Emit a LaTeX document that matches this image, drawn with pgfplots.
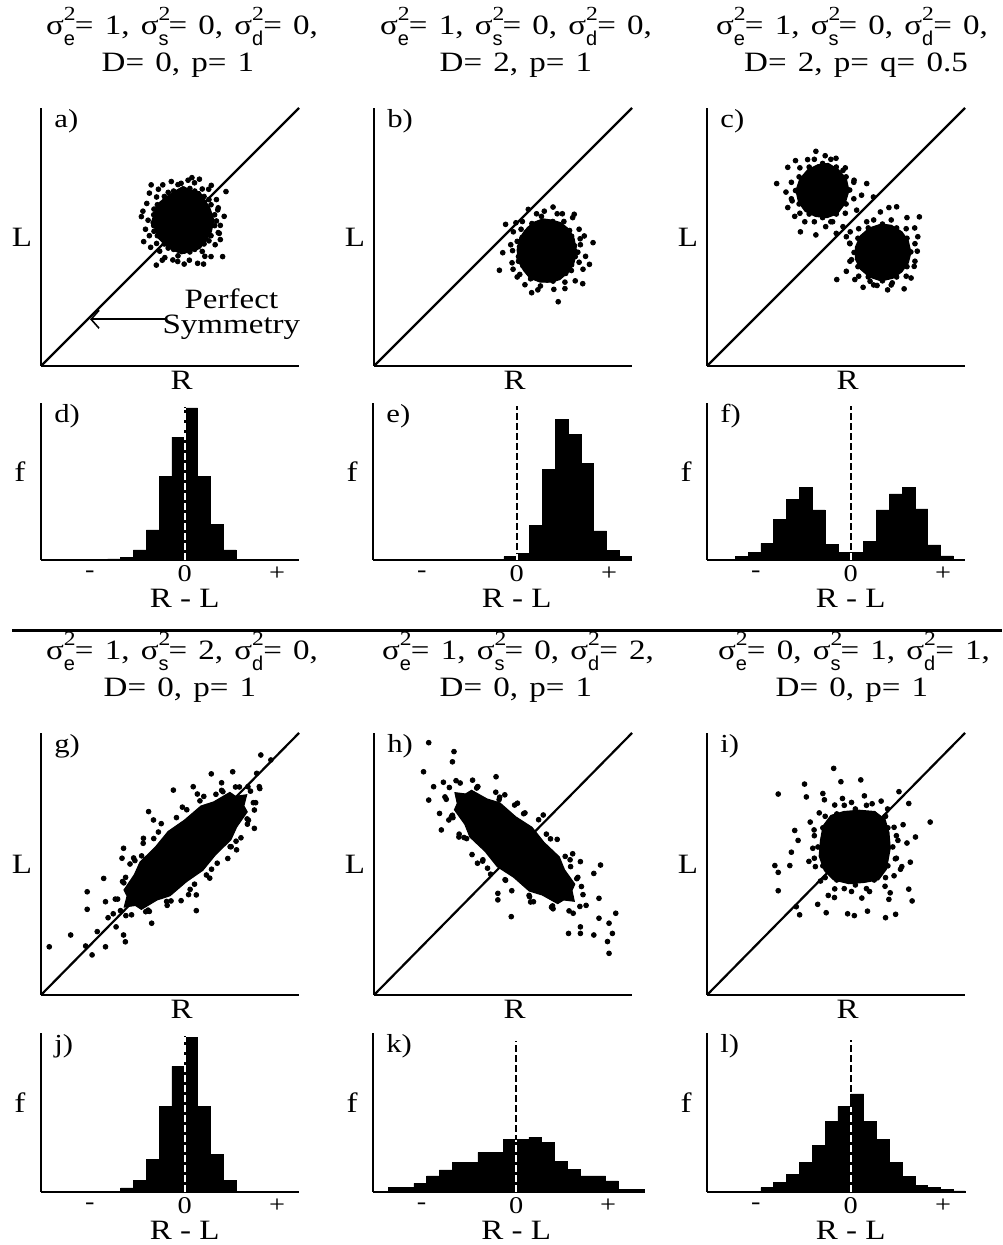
\documentclass[border=0pt]{standalone}
\usepackage{pgfplots}
\pgfplotsset{compat=1.18}
\usepackage{fontspec}
\setmainfont{Liberation Serif}[FakeStretch=1.18]
\setsansfont{Liberation Sans}
\usetikzlibrary{arrows.meta}

% sigma^2 with a subscript under the 2
\newcommand{\sv}[1]{σ\makebox[0pt][l]{\raisebox{7pt}{\fontsize{10}{10}\selectfont 2}}\raisebox{-5.5pt}{\fontsize{10}{10}\selectfont\sffamily #1}}
\newcommand{\widesp}{\spaceskip=0.4em\relax}

\tikzset{letter/.style={anchor=north west, inner sep=0pt, xshift=6.5pt, yshift=-0.5pt, font=\fontsize{13}{13}\selectfont},
  ttl/.style={anchor=base, inner sep=0pt, font=\fontsize{14}{16}\selectfont\widesp}}

\pgfplotsset{
  panel/.style={scale only axis, axis lines=left, axis line style={-, line width=1pt},
    xtick=\empty, ytick=\empty, clip=false, anchor=south west},
  scat/.style={panel, width=129pt, height=129pt, xmin=0, xmax=10, ymin=0, ymax=10,
    xlabel=R, ylabel=L,
    every axis x label/.style={at={(axis description cs:0.545,0)}, anchor=center, inner sep=0.5pt, yshift=-7pt},
    every axis y label/.style={at={(axis description cs:0,0.5)}, anchor=center, inner sep=0.5pt, xshift=-9.5pt}},
  hist/.style={panel, width=129pt, height=78.5pt, xmin=-11.2, xmax=8.9, ymin=0, ymax=470,
    xtick={-7.4,0,7.2}, xticklabels={-,0,+}, major tick length=0pt,
    xticklabel style={font=\fontsize{12}{12}\selectfont, anchor=center, inner sep=0.5pt, yshift=-7pt},
    xlabel={R - L}, ylabel=f,
    every axis x label/.style={at={(axis cs:0,0)}, anchor=center, inner sep=0.5pt, yshift=-19pt},
    every axis y label/.style={at={(axis description cs:0,0.56)}, anchor=center, inner sep=0.5pt, xshift=-10.5pt}},
  dots/.style={only marks, mark=*, mark size=1.2pt, black},
  core/.style={fill=black, draw=black, line width=0.6pt},
  diag/.style={black, line width=1.1pt},
  bars/.style={ybar interval, fill=black, draw=black, line width=0.3pt},
  zeroline/.style={black, line width=0.9pt, dash pattern=on 3.5pt off 1.5pt},
  zerowhite/.style={white, line width=0.9pt, dash pattern=on 3.5pt off 1.5pt},
}

\begin{document}
\fontsize{14}{16}\selectfont
\begin{tikzpicture}
\useasboundingbox (0,0) rectangle (501pt,622.5pt);

% ---------- a)
\begin{axis}[scat, at={(20.5pt,439.5pt)}]
\addplot[diag] coordinates {(0,0) (10,10)};
\addplot[core] coordinates {(6.70,5.65) (6.55,6.10) (6.40,6.35) (6.15,6.75) (5.80,6.80) (5.50,6.95) (5.15,6.75) (4.85,6.55) (4.55,6.30) (4.40,5.95) (4.30,5.60) (4.45,5.25) (4.55,4.95) (4.85,4.65) (5.10,4.50) (5.45,4.35) (5.80,4.45) (6.15,4.55) (6.40,4.85) (6.60,5.20)} -- cycle;
\addplot[dots] coordinates {(4.27,7.02) (6.14,7.24) (7.17,6.76) (3.98,4.82) (4.47,3.91) (7.04,4.24) (6.07,3.98) (5.11,4.11) (6.59,4.24) (3.89,5.79) (6.91,5.14) (4.72,7.02) (5.43,7.08) (4.10,6.30) (4.05,5.30) (4.25,4.60) (4.80,4.20) (5.30,4.05) (5.75,4.10) (6.35,4.25) (6.75,4.70) (6.95,5.45) (6.85,6.05) (6.80,6.45) (6.50,6.85) (5.95,7.10) (5.05,7.15) (4.55,6.85) (4.20,6.70) (3.95,6.00) (4.20,5.05) (4.60,4.45) (5.55,3.95) (6.30,3.95) (6.95,4.90) (7.10,5.80) (5.70,7.20) (4.35,5.55) (5.85,7.30) (6.60,7.00) (4.70,4.10)};
\addplot[dots] coordinates {(6.80,5.62) (6.87,6.13) (6.51,6.45) (6.25,6.86) (5.77,6.88) (5.31,7.03) (4.93,6.73) (4.48,6.55) (4.38,6.08) (4.15,5.65) (4.38,5.22) (4.48,4.75) (4.93,4.57) (5.31,4.27) (5.77,4.42) (6.25,4.44) (6.51,4.85) (6.87,5.17) (6.73,5.86) (6.59,6.25) (6.32,6.57) (5.96,6.78) (5.55,6.85) (5.14,6.78) (4.78,6.57) (4.51,6.25) (4.37,5.86) (4.37,5.44) (4.51,5.05) (4.78,4.73) (5.14,4.52) (5.55,4.45) (5.96,4.52) (6.32,4.73) (6.59,5.05) (6.73,5.44)};
\addplot[-{Straight Barb[length=4pt,width=9pt]}, line width=0.8pt] coordinates {(4.85,1.81) (1.90,1.81)};
\node[align=center, inner sep=0pt, font=\fontsize{14}{12.5}\selectfont] at (axis cs:7.38,2.0) {Perfect\\Symmetry};
\node[letter] at (axis description cs:0,1) {a)};
\end{axis}

% ---------- b)
\begin{axis}[scat, at={(187pt,439.5pt)}]
\addplot[diag] coordinates {(0,0) (10,10)};
\addplot[core] coordinates {(7.85,4.45) (7.75,4.95) (7.55,5.30) (7.25,5.55) (6.90,5.65) (6.55,5.70) (6.15,5.55) (5.85,5.25) (5.65,4.95) (5.55,4.50) (5.60,4.05) (5.80,3.70) (6.05,3.40) (6.45,3.25) (6.85,3.25) (7.20,3.35) (7.55,3.65) (7.75,4.00)} -- cycle;
\addplot[dots] coordinates {(6.94,6.16) (5.98,6.07) (5.10,5.49) (7.76,5.88) (4.99,4.39) (4.86,3.71) (5.39,3.75) (7.14,2.49) (8.09,3.19) (8.49,4.78) (8.35,3.94) (6.11,2.84) (8.15,5.04) (6.97,2.97) (8.00,4.70) (7.95,5.30) (7.70,5.75) (7.30,5.90) (6.60,6.00) (6.30,5.90) (5.75,5.60) (5.40,5.20) (5.30,4.70) (5.35,4.00) (5.55,3.45) (5.85,3.15) (6.35,2.95) (7.40,3.00) (7.80,3.30) (8.10,3.75) (8.20,4.25) (7.10,5.90) (5.50,5.55)};
\addplot[dots] coordinates {(7.90,4.41) (7.58,5.25) (6.93,5.60) (6.12,5.52) (5.55,4.83) (5.60,4.06) (6.07,3.38) (6.94,3.29) (7.65,3.70) (7.99,4.93) (7.36,5.60) (6.49,5.80) (5.70,5.30) (5.37,4.47) (5.65,3.55) (6.45,3.10) (7.40,3.25) (7.95,4.02) (7.77,4.66) (7.66,5.03) (7.43,5.26) (7.06,5.49) (6.72,5.58) (6.30,5.46) (6.01,5.31) (5.74,4.98) (5.64,4.62) (5.60,4.24) (5.77,3.88) (5.98,3.63) (6.34,3.40) (6.71,3.33) (7.10,3.44) (7.43,3.59) (7.66,3.92) (7.80,4.24)};
\node[letter] at (axis description cs:0,1) {b)};
\end{axis}

% ---------- c)
\begin{axis}[scat, at={(353.5pt,439.5pt)}]
\addplot[diag] coordinates {(0,0) (10,10)};
\addplot[core] coordinates {(5.50,6.80) (5.40,7.25) (5.10,7.60) (4.70,7.85) (4.30,7.80) (3.90,7.60) (3.60,7.25) (3.45,6.80) (3.55,6.35) (3.80,6.00) (4.20,5.80) (4.65,5.75) (5.05,5.90) (5.35,6.30)} -- cycle;
\addplot[core] coordinates {(7.90,4.40) (7.80,4.85) (7.55,5.20) (7.15,5.45) (6.75,5.50) (6.30,5.35) (5.95,5.05) (5.75,4.60) (5.75,4.15) (5.95,3.75) (6.30,3.45) (6.75,3.30) (7.20,3.40) (7.55,3.65) (7.80,4.00)} -- cycle;
\addplot[dots] coordinates {(4.22,8.32) (4.58,8.15) (3.43,7.96) (3.13,7.70) (2.70,7.07) (3.06,6.74) (3.13,6.14) (3.62,5.20) (4.22,5.08) (3.79,5.59) (5.27,7.58) (6.19,7.07) (5.99,6.62) (6.45,6.55) (5.80,6.04) (5.27,5.40) (5.01,5.14) (5.40,5.01) (4.87,5.59) (3.30,6.40) (3.90,8.00) (5.00,8.05) (5.70,7.20) (3.40,5.80) (4.60,5.40)};
\addplot[dots] coordinates {(5.53,6.82) (5.39,7.33) (5.01,7.71) (4.48,7.85) (3.96,7.71) (3.57,7.33) (3.43,6.80) (3.57,6.28) (3.96,5.89) (4.48,5.75) (5.01,5.89) (5.39,6.28) (5.69,7.12) (5.36,7.68) (4.80,8.01) (4.16,8.01) (3.60,7.68) (3.27,7.12) (3.27,6.48) (3.60,5.92) (4.16,5.59) (4.80,5.59) (5.36,5.92) (5.69,6.48)};
\addplot[dots] coordinates {(7.35,6.17) (7.05,6.14) (8.23,5.78) (6.72,5.97) (6.19,5.59) (8.17,5.01) (8.03,3.86) (7.91,3.41) (7.64,2.99) (6.59,3.12) (5.73,3.35) (5.03,3.35) (5.40,3.67) (5.60,4.12) (5.53,4.76) (6.32,3.28) (7.18,3.22) (7.75,5.75) (8.15,4.45) (7.00,2.95) (6.05,3.05) (5.55,5.20) (8.05,5.35)};
\addplot[dots] coordinates {(7.90,4.42) (7.75,4.95) (7.35,5.35) (6.80,5.50) (6.25,5.35) (5.85,4.95) (5.70,4.40) (5.85,3.85) (6.25,3.45) (6.80,3.30) (7.35,3.45) (7.75,3.85) (8.06,4.74) (7.72,5.32) (7.14,5.66) (6.46,5.66) (5.88,5.32) (5.54,4.74) (5.54,4.06) (5.88,3.48) (6.46,3.14) (7.14,3.14) (7.72,3.48) (8.06,4.06)};
\node[letter] at (axis description cs:0,1) {c)};
\end{axis}

% ---------- d)
\begin{axis}[hist, at={(20.5pt,342.5pt)}]
\addplot[bars] coordinates {(-6,3) (-5,7) (-4,30) (-3,90) (-2,250) (-1,368) (0,455) (1,250) (2,107) (3,30) (4,0)};
\addplot[zeroline] coordinates {(0,0) (0,458)};
\addplot[zerowhite] coordinates {(0,0) (0,455)};
\node[letter] at (axis description cs:0,1) {d)};
\end{axis}

% ---------- e)
\begin{axis}[hist, at={(186.5pt,342.5pt)}]
\addplot[bars] coordinates {(-1,10) (0,20) (1,103) (2,270) (3,422) (4,375) (5,288) (6,87) (7,28) (8,10) (8.9,0)};
\addplot[zeroline] coordinates {(0,0) (0,460)};
\addplot[zerowhite] coordinates {(0,0) (0,18)};
\node[letter] at (axis description cs:0,1) {e)};
\end{axis}

% ---------- f)
\begin{axis}[hist, at={(353.5pt,342.5pt)}]
\addplot[bars] coordinates {(-9,10) (-8,22) (-7,50) (-6,122) (-5,182) (-4,218) (-3,150) (-2,47) (-1,23) (0,23) (1,55) (2,150) (3,198) (4,218) (5,153) (6,45) (7,12) (8,0)};
\addplot[zeroline] coordinates {(0,0) (0,460)};
\addplot[zerowhite] coordinates {(0,0) (0,21)};
\node[letter] at (axis description cs:0,1) {f)};
\end{axis}

% ---------- g)
\begin{axis}[scat, height=131pt, at={(20.5pt,125pt)}]
\addplot[diag] coordinates {(0,0) (10,10)};
\addplot[core] coordinates {(7.97,7.64) (7.54,7.58) (7.32,7.73) (6.70,7.37) (6.20,7.21) (5.56,6.67) (4.93,6.24) (4.44,5.65) (3.84,5.07) (3.62,4.59) (3.22,4.01) (3.34,3.78) (3.23,3.36) (3.66,3.42) (3.89,3.27) (4.50,3.63) (5.00,3.79) (5.64,4.33) (6.27,4.76) (6.76,5.35) (7.36,5.93) (7.58,6.41) (7.99,6.99) (7.86,7.22)} -- cycle;
\addplot[dots] coordinates {(0.32,1.84) (1.15,2.29) (1.73,1.87) (1.98,1.53) (2.18,2.42) (2.50,1.84) (1.79,3.27) (1.79,3.94) (2.43,4.45) (2.50,3.56) (3.20,2.29) (3.27,2.03) (3.14,5.22) (3.20,5.60) (4.29,2.74) (4.17,7.00) (4.36,6.68) (6.02,3.82) (6.02,3.22) (6.60,8.44) (7.43,8.52) (8.52,9.16) (8.91,8.97) (8.27,6.36) (8.27,7.06) (8.46,7.95) (7.37,5.66) (6.41,4.58) (5.13,7.82) (5.90,7.95) (3.97,5.98) (8.02,7.95) (7.54,7.94) (6.78,7.66) (5.65,7.07) (4.55,6.22) (3.90,5.31) (3.28,4.49) (2.88,3.66) (2.80,3.10) (3.29,3.03) (4.06,3.18) (4.87,3.57) (5.78,4.03) (6.61,4.80) (7.33,5.66) (8.00,6.52) (8.32,7.34) (8.48,7.88) (6.06,7.67) (3.59,5.23) (5.43,3.60) (7.58,5.54) (2.91,2.60) (8.36,8.46) (2.60,2.95) (7.00,8.10)};
\addplot[dots] coordinates {(8.12,7.78) (7.69,7.94) (7.00,7.81) (6.16,7.41) (5.25,6.77) (4.37,5.97) (3.64,5.13) (3.16,4.33) (2.97,3.66) (3.08,3.22) (3.51,3.06) (4.20,3.19) (5.04,3.59) (5.95,4.23) (6.83,5.03) (7.56,5.87) (8.04,6.67) (8.23,7.34) (7.05,7.76) (6.31,7.58) (5.48,7.17) (4.66,6.54) (3.96,5.79) (3.45,5.00) (3.21,4.28) (4.15,3.24) (4.89,3.42) (5.72,3.83) (6.54,4.46) (7.24,5.21) (7.75,6.00) (7.99,6.72)};
\node[letter] at (axis description cs:0,1) {g)};
\end{axis}

% ---------- h)
\begin{axis}[scat, height=131pt, at={(187pt,125pt)}]
\addplot[diag] coordinates {(0,0) (10,10)};
\addplot[core] coordinates {(7.76,3.58) (7.67,3.99) (7.78,4.23) (7.38,4.78) (7.18,5.27) (6.59,5.82) (6.12,6.40) (5.49,6.80) (4.88,7.33) (4.38,7.48) (3.78,7.81) (3.55,7.67) (3.14,7.72) (3.23,7.31) (3.12,7.07) (3.52,6.52) (3.72,6.03) (4.31,5.48) (4.78,4.90) (5.41,4.50) (6.02,3.97) (6.52,3.82) (7.12,3.49) (7.35,3.63)} -- cycle;
\addplot[dots] coordinates {(2.12,9.63) (1.92,8.52) (2.12,7.44) (3.10,9.29) (2.31,7.95) (2.54,6.93) (2.61,6.30) (2.90,6.68) (4.01,5.03) (4.40,4.84) (4.80,3.88) (4.80,3.63) (5.32,2.99) (6.56,6.87) (8.00,5.09) (8.78,4.96) (8.52,4.64) (8.72,3.69) (9.37,3.12) (8.72,2.93) (9.11,2.74) (9.24,2.35) (9.11,1.59) (9.05,2.04) (8.52,2.29) (8.00,2.35) (7.54,2.35) (8.00,2.60) (4.73,8.33) (3.82,8.20) (3.04,8.90) (5.45,7.25) (8.22,3.42) (8.04,4.14) (7.62,4.90) (6.84,5.96) (5.85,6.95) (4.85,7.46) (4.02,7.95) (3.18,8.18) (2.69,8.12) (2.75,7.56) (3.06,6.77) (3.59,5.97) (4.21,5.11) (5.08,4.40) (6.01,3.80) (6.94,3.29) (7.72,3.12) (7.70,5.39) (5.07,7.64) (3.29,6.03) (6.07,3.55)};
\addplot[dots] coordinates {(7.98,3.38) (8.10,3.83) (7.90,4.49) (7.41,5.29) (6.68,6.14) (5.80,6.92) (4.87,7.55) (4.02,7.95) (3.34,8.09) (2.92,7.92) (2.80,7.47) (3.00,6.81) (3.49,6.01) (4.22,5.16) (5.10,4.38) (6.03,3.75) (6.88,3.35) (7.56,3.21) (7.86,4.44) (7.60,5.16) (7.10,5.94) (6.38,6.69) (5.56,7.32) (4.72,7.74) (3.98,7.90) (3.04,6.86) (3.30,6.14) (3.80,5.36) (4.52,4.61) (5.34,3.98) (6.18,3.56) (6.92,3.40)};
\node[letter] at (axis description cs:0,1) {h)};
\end{axis}

% ---------- i)
\begin{axis}[scat, height=131pt, at={(353.5pt,125pt)}]
\addplot[diag] coordinates {(0,0) (10,10)};
\addplot[core] coordinates {(7.10,5.60) (7.05,6.20) (6.90,6.70) (6.50,7.00) (5.90,7.05) (5.30,7.00) (4.80,6.85) (4.50,6.45) (4.40,5.90) (4.35,5.30) (4.55,4.75) (4.90,4.40) (5.50,4.25) (6.10,4.30) (6.65,4.40) (6.95,4.80)} -- cycle;
\addplot[dots] coordinates {(4.91,8.65) (3.78,8.05) (2.76,7.67) (5.19,8.14) (5.96,8.21) (7.44,7.76) (7.82,7.31) (8.65,6.60) (8.08,6.03) (7.88,5.07) (7.82,4.04) (7.95,3.59) (7.31,3.08) (6.92,2.95) (7.05,3.65) (5.71,3.03) (5.45,3.10) (4.62,3.14) (4.29,3.46) (3.59,3.06) (3.46,3.37) (2.76,3.98) (2.63,4.94) (2.76,4.68) (3.21,4.94) (3.27,5.45) (3.40,6.28) (3.53,5.90) (3.85,7.56) (4.49,7.69) (4.94,3.72) (6.22,3.20) (7.75,5.80) (7.50,4.80) (7.30,5.20) (7.25,6.40) (7.00,7.10) (6.40,7.30) (5.60,7.35) (4.95,7.25) (4.35,6.95) (4.15,6.30) (4.10,5.60) (4.20,4.90) (4.40,4.35) (4.95,4.05) (5.60,3.95) (6.30,3.95) (6.90,4.15) (7.25,4.55) (7.40,5.90) (6.75,7.40) (5.25,7.50) (4.00,6.60) (3.95,5.10) (4.70,3.80) (6.00,3.70) (7.10,3.90) (7.55,4.90) (7.60,6.50) (6.10,7.60) (4.55,7.45)};
\addplot[dots] coordinates {(7.20,5.65) (7.01,6.38) (6.48,6.91) (5.75,7.10) (5.03,6.91) (4.49,6.38) (4.30,5.65) (4.49,4.93) (5.03,4.39) (5.75,4.20) (6.48,4.39) (7.01,4.93) (7.34,6.08) (6.92,6.82) (6.18,7.24) (5.32,7.24) (4.58,6.82) (4.16,6.08) (4.16,5.22) (4.58,4.48) (5.32,4.06) (6.18,4.06) (6.92,4.48) (7.34,5.22)};
\node[letter] at (axis description cs:0,1) {i)};
\end{axis}

% ---------- j)
\begin{axis}[hist, height=79.5pt, ymax=475, at={(20.5pt,26.5pt)}]
\addplot[bars] coordinates {(-5,12) (-4,35) (-3,97) (-2,255) (-1,375) (0,463) (1,255) (2,113) (3,35) (4,0)};
\addplot[zeroline] coordinates {(0,0) (0,466)};
\addplot[zerowhite] coordinates {(0,0) (0,463)};
\node[letter] at (axis description cs:0,1) {j)};
\end{axis}

% ---------- k)
\begin{axis}[hist, height=79.5pt, ymax=475, xmax=10, width=135.5pt, at={(186.5pt,26.5pt)}]
\addplot[bars] coordinates {(-10,13) (-9,13) (-8,26) (-7,48) (-6,66) (-5,88) (-4,88) (-3,118) (-2,118) (-1,158) (0,158) (1,163) (2,148) (3,91) (4,68) (5,48) (6,48) (7,33) (8,8) (9,8) (10,0)};
\addplot[zeroline] coordinates {(0,0) (0,450)};
\addplot[zerowhite] coordinates {(0,0) (0,156)};
\node[letter] at (axis description cs:0,1) {k)};
\end{axis}

% ---------- l)
\begin{axis}[hist, height=79.5pt, ymax=475, at={(353.5pt,26.5pt)}]
\addplot[bars] coordinates {(-7,13) (-6,28) (-5,53) (-4,88) (-3,140) (-2,211) (-1,256) (0,293) (1,211) (2,156) (3,88) (4,46) (5,20) (6,13) (7,8) (8,3) (8.9,0)};
\addplot[zeroline] coordinates {(0,0) (0,455)};
\addplot[zerowhite] coordinates {(0,0) (0,254)};
\node[letter] at (axis description cs:0,1) {l)};
\end{axis}

% titles
\node[ttl] at (91pt,605pt) {\sv{e}= 1, \sv{s}= 0, \sv{d}= 0,};
\node[ttl] at (89pt,586.5pt) {D= 0, p= 1};
\node[ttl] at (258pt,605pt) {\sv{e}= 1, \sv{s}= 0, \sv{d}= 0,};
\node[ttl] at (258pt,586.5pt) {D= 2, p= 1};
\node[ttl] at (426pt,605pt) {\sv{e}= 1, \sv{s}= 0, \sv{d}= 0,};
\node[ttl] at (428pt,586.5pt) {D= 2, p= q= 0.5};
\node[ttl] at (91pt,292.5pt) {\sv{e}= 1, \sv{s}= 2, \sv{d}= 0,};
\node[ttl] at (90pt,274pt) {D= 0, p= 1};
\node[ttl] at (259pt,292.5pt) {\sv{e}= 1, \sv{s}= 0, \sv{d}= 2,};
\node[ttl] at (258pt,274pt) {D= 0, p= 1};
\node[ttl] at (427pt,292.5pt) {\sv{e}= 0, \sv{s}= 1, \sv{d}= 1,};
\node[ttl] at (426pt,274pt) {D= 0, p= 1};

% divider
\draw[line width=1.5pt] (6pt,307pt) -- (501pt,307pt);
\end{tikzpicture}
\end{document}
